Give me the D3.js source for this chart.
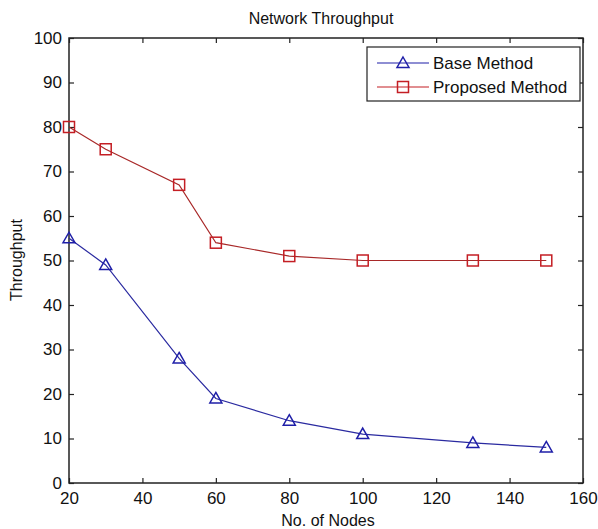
<!DOCTYPE html>
<html><head><meta charset="utf-8">
<script src="https://cdn.jsdelivr.net/npm/d3@7"></script>
<style>body{margin:0;background:#fff;} text{font-family:"Liberation Sans",Arial,sans-serif;fill:#111;}</style>
</head><body>
<svg id="c" width="598" height="529"></svg>
<script>
const nodes = [20, 30, 50, 60, 80, 100, 130, 150];
const baseMethod = [55, 49, 28, 19, 14, 11, 9, 8];
const proposedMethod = [80, 75, 67, 54, 51, 50, 50, 50];
const xTicks = [20, 40, 60, 80, 100, 120, 140, 160];
const yTicks = [0, 10, 20, 30, 40, 50, 60, 70, 80, 90, 100];
const seriesNames = ["Base Method", "Proposed Method"];

const svg = d3.select("#c");
const L = 69, R = 583, T = 38, B = 483;
const x = d3.scaleLinear().domain([20, 160]).range([L, R]);
const y = d3.scaleLinear().domain([0, 100]).range([B, T]);
const axisColor = "#222";
const fs = "17px";

// Box
svg.append("rect").attr("x", L).attr("y", T).attr("width", R - L).attr("height", B - T)
  .attr("fill", "none").attr("stroke", axisColor).attr("stroke-width", 1.5);

// Axes (ticks inward)
const gx = svg.append("g").attr("transform", `translate(0,${B})`)
  .call(d3.axisBottom(x).tickValues(xTicks).tickSize(-5).tickPadding(9).tickFormat(d3.format("d")));
const gxt = svg.append("g").attr("transform", `translate(0,${T})`)
  .call(d3.axisTop(x).tickValues(xTicks).tickSize(-5).tickFormat(""));
const gy = svg.append("g").attr("transform", `translate(${L},0)`)
  .call(d3.axisLeft(y).tickValues(yTicks).tickSize(-5).tickPadding(7).tickFormat(d3.format("d")));
const gyr = svg.append("g").attr("transform", `translate(${R},0)`)
  .call(d3.axisRight(y).tickValues(yTicks).tickSize(-5).tickFormat(""));
[gx, gxt, gy, gyr].forEach(g => {
  g.select(".domain").remove();
  g.selectAll(".tick line").attr("stroke", axisColor).attr("stroke-width", 1.2);
  g.selectAll(".tick text").style("font-size", fs).style("font-family", '"Liberation Sans",Arial,sans-serif').attr("fill", "#111");
});

// Series
const colors = ["#1f1fa8", "#c41e24"];
const lineColors = ["#2a2aa0", "#a82828"];
const data = [baseMethod, proposedMethod];
const line = d3.line().x(d => x(d[0])).y(d => y(d[1]));

function drawMarker(g, kind, cx, cy, color) {
  if (kind === 0) {
    const s = 6;
    g.append("path")
      .attr("d", `M${cx},${cy - s}L${cx + s},${cy + s * 0.75}L${cx - s},${cy + s * 0.75}Z`)
      .attr("fill", "none").attr("stroke", color).attr("stroke-width", 1.5);
  } else {
    const s = 5.5;
    g.append("rect").attr("x", cx - s).attr("y", cy - s).attr("width", 2 * s).attr("height", 2 * s)
      .attr("fill", "none").attr("stroke", color).attr("stroke-width", 1.5);
  }
}

data.forEach((vals, i) => {
  const pts = nodes.map((n, j) => [n, vals[j]]);
  const g = svg.append("g");
  g.append("path").attr("d", line(pts)).attr("fill", "none").attr("stroke", lineColors[i]).attr("stroke-width", 1.2);
  pts.forEach(p => drawMarker(g, i, x(p[0]), y(p[1]), colors[i]));
});

// Legend
const lg = svg.append("g");
lg.append("rect").attr("x", 367).attr("y", 47).attr("width", 213).attr("height", 54)
  .attr("fill", "#fff").attr("stroke", axisColor).attr("stroke-width", 1.2);
seriesNames.forEach((name, i) => {
  const ly = 63 + i * 24;
  lg.append("line").attr("x1", 377).attr("x2", 429).attr("y1", ly).attr("y2", ly)
    .attr("stroke", colors[i]).attr("stroke-width", 1.2);
  drawMarker(lg, i, 403, ly, colors[i]);
  lg.append("text").attr("x", 433).attr("y", ly).attr("dy", "0.36em").style("font-size", fs).text(name);
});

// Title & labels
svg.append("text").attr("x", 321).attr("y", 24).attr("text-anchor", "middle").style("font-size", "16px").text("Network Throughput");
svg.append("text").attr("x", 328).attr("y", 526).attr("text-anchor", "middle").style("font-size", "16px").text("No. of Nodes");
svg.append("text").attr("transform", "translate(22,260) rotate(-90)").attr("text-anchor", "middle").style("font-size", "16px").text("Throughput");
</script>
</body></html>
